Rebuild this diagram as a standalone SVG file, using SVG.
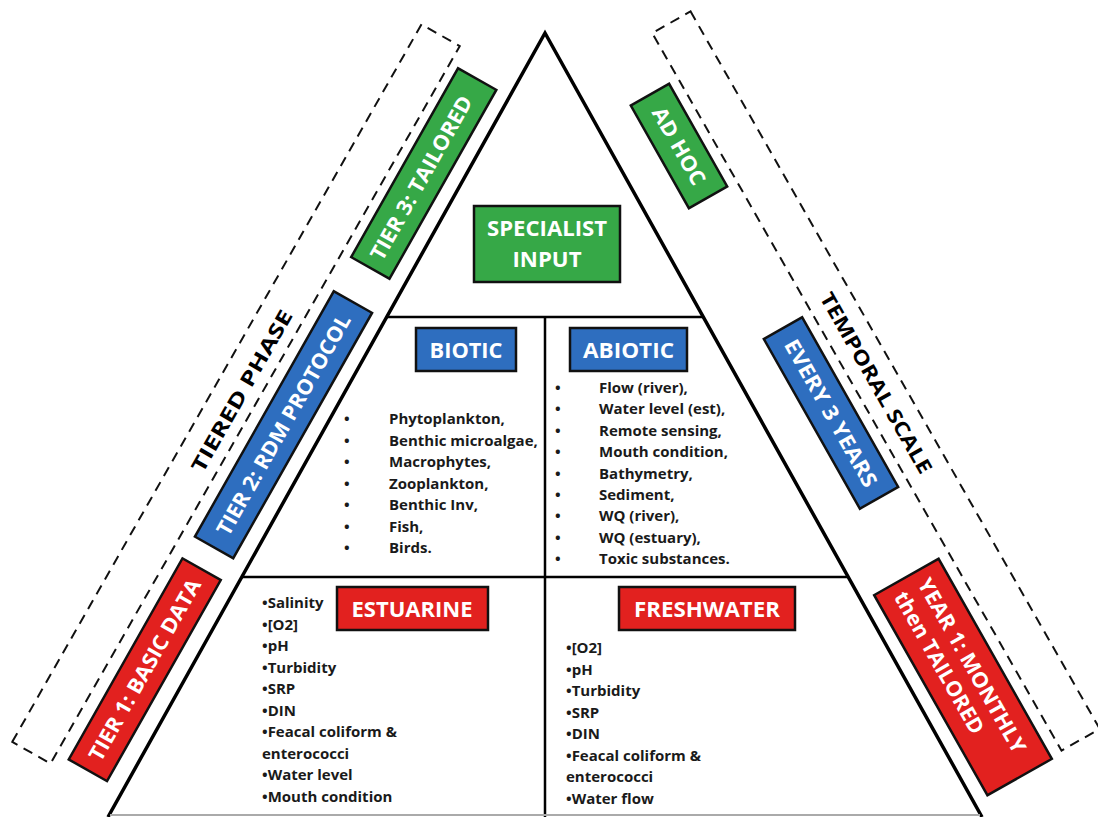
<svg xmlns="http://www.w3.org/2000/svg" width="1098" height="817" viewBox="0 0 1098 817">
<style>
.lbl{font-family:"Open Sans","Liberation Sans",sans-serif;font-weight:bold;font-size:21px;fill:#fff}
.side{font-family:"Open Sans","Liberation Sans",sans-serif;font-weight:bold;font-size:20px;fill:#000}
.lst{font-family:"Open Sans","Liberation Sans",sans-serif;font-weight:bold;font-size:15px;fill:#1a1a1a}
.g{fill:#36a847;stroke:#111;stroke-width:2.5}
.b{fill:#2e6ebf;stroke:#111;stroke-width:2.5}
.r{fill:#e2211f;stroke:#111;stroke-width:2.5}
.dash{fill:none;stroke:#111;stroke-width:2;stroke-dasharray:10 7}
</style>
<rect width="1098" height="817" fill="#fff"/>
<g id="connectors" fill="none" stroke="#000">
<path d="M108,817 L545,33 L982,817" stroke-width="3.5" stroke-linejoin="miter"/>
<line x1="386" y1="317" x2="703" y2="317" stroke-width="2.5"/>
<line x1="242" y1="577" x2="847" y2="577" stroke-width="2.5"/>
<line x1="545" y1="317" x2="545" y2="817" stroke-width="2.5"/>
<line x1="110" y1="815" x2="980" y2="815" stroke="#aaa" stroke-width="2"/>
</g>
<g id="tiered-phase">
<rect class="dash" x="-413" y="-22" width="826" height="44" transform="translate(236,394) rotate(-60.3)"/>
<text class="side" text-anchor="middle" x="0" y="7" textLength="183" lengthAdjust="spacingAndGlyphs" transform="translate(242,391) rotate(-60.3)">TIERED PHASE</text>
</g>
<g id="temporal-scale">
<rect class="dash" x="-413" y="-22" width="826" height="44" transform="translate(876,381) rotate(60.3)"/>
<text class="side" text-anchor="middle" x="0" y="7" textLength="205" lengthAdjust="spacingAndGlyphs" transform="translate(876,383) rotate(60.3)">TEMPORAL  SCALE</text>
</g>
<g id="tier3">
<rect class="g" x="-108.5" y="-22" width="217" height="44" transform="translate(423.75,173.5) rotate(-60.5)"/>
<text class="lbl" text-anchor="middle" x="-5" y="7.5" textLength="185" lengthAdjust="spacingAndGlyphs" transform="translate(423.75,173.5) rotate(-60.5)">TIER 3: TAILORED</text>
</g>
<g id="tier2">
<rect class="b" x="-141" y="-22" width="282" height="44" transform="translate(283.5,424.75) rotate(-60.5)"/>
<text class="lbl" text-anchor="middle" x="0" y="7.5" textLength="250" lengthAdjust="spacingAndGlyphs" transform="translate(283.5,424.75) rotate(-60.5)">TIER 2: RDM PROTOCOL</text>
</g>
<g id="tier1">
<rect class="r" x="-115.5" y="-22" width="231" height="44" transform="translate(144.75,669.75) rotate(-60.5)"/>
<text class="lbl" text-anchor="middle" x="0" y="7.5" textLength="205" lengthAdjust="spacingAndGlyphs" transform="translate(144.75,669.75) rotate(-60.5)">TIER 1: BASIC DATA</text>
</g>
<g id="adhoc">
<rect class="g" x="-59" y="-22" width="118" height="44" transform="translate(679,146) rotate(60.5)"/>
<text class="lbl" text-anchor="middle" x="0" y="7.5" textLength="86" lengthAdjust="spacingAndGlyphs" transform="translate(679,146) rotate(60.5)">AD HOC</text>
</g>
<g id="every3">
<rect class="b" x="-97.5" y="-22" width="195" height="44" transform="translate(831,413) rotate(60.5)"/>
<text class="lbl" text-anchor="middle" x="0" y="7.5" textLength="166" lengthAdjust="spacingAndGlyphs" transform="translate(831,413) rotate(60.5)">EVERY 3 YEARS</text>
</g>
<g id="year1">
<rect class="r" x="-115" y="-37" width="230" height="74" transform="translate(963,677) rotate(60.5)"/>
<text class="lbl" x="-104" y="-6" textLength="197" lengthAdjust="spacingAndGlyphs" transform="translate(963,677) rotate(60.5)">YEAR 1: MONTHLY</text>
<text class="lbl" x="-104" y="21" textLength="160" lengthAdjust="spacingAndGlyphs" transform="translate(963,677) rotate(60.5)">then TAILORED</text>
</g>
<g id="specialist">
<rect class="g" x="474" y="206" width="146" height="76"/>
<text class="lbl" text-anchor="middle" x="547" y="236" textLength="120" lengthAdjust="spacingAndGlyphs">SPECIALIST</text>
<text class="lbl" text-anchor="middle" x="547" y="267" textLength="69" lengthAdjust="spacingAndGlyphs">INPUT</text>
</g>
<g id="biotic">
<rect class="b" x="416" y="328" width="100" height="43"/>
<text class="lbl" text-anchor="middle" x="466" y="358" textLength="73" lengthAdjust="spacingAndGlyphs">BIOTIC</text>
<g class="lst">
<text x="344" y="424">•<tspan x="389">Phytoplankton,</tspan></text>
<text x="344" y="445.5">•<tspan x="389">Benthic microalgae,</tspan></text>
<text x="344" y="467">•<tspan x="389">Macrophytes,</tspan></text>
<text x="344" y="488.5">•<tspan x="389">Zooplankton,</tspan></text>
<text x="344" y="510">•<tspan x="389">Benthic Inv,</tspan></text>
<text x="344" y="531.5">•<tspan x="389">Fish,</tspan></text>
<text x="344" y="553">•<tspan x="389">Birds.</tspan></text>
</g>
</g>
<g id="abiotic">
<rect class="b" x="570" y="328" width="117" height="43"/>
<text class="lbl" text-anchor="middle" x="628.5" y="358" textLength="91" lengthAdjust="spacingAndGlyphs">ABIOTIC</text>
<g class="lst">
<text x="555" y="393">•<tspan x="599">Flow (river),</tspan></text>
<text x="555" y="414.4">•<tspan x="599">Water level (est),</tspan></text>
<text x="555" y="435.8">•<tspan x="599">Remote sensing,</tspan></text>
<text x="555" y="457.2">•<tspan x="599">Mouth condition,</tspan></text>
<text x="555" y="478.6">•<tspan x="599">Bathymetry,</tspan></text>
<text x="555" y="500">•<tspan x="599">Sediment,</tspan></text>
<text x="555" y="521.4">•<tspan x="599">WQ (river),</tspan></text>
<text x="555" y="542.8">•<tspan x="599">WQ (estuary),</tspan></text>
<text x="555" y="564.2">•<tspan x="599">Toxic substances.</tspan></text>
</g>
</g>
<g id="estuarine">
<rect class="r" x="337" y="587" width="151" height="43"/>
<text class="lbl" text-anchor="middle" x="412" y="617" textLength="121" lengthAdjust="spacingAndGlyphs">ESTUARINE</text>
<g class="lst">
<text x="262" y="608">•Salinity</text>
<text x="262" y="629.5">•[O2]</text>
<text x="262" y="651">•pH</text>
<text x="262" y="672.5">•Turbidity</text>
<text x="262" y="694">•SRP</text>
<text x="262" y="715.5">•DIN</text>
<text x="262" y="737">•Feacal coliform &amp;</text>
<text x="262" y="758.5">enterococci</text>
<text x="262" y="780">•Water level</text>
<text x="262" y="801.5">•Mouth condition</text>
</g>
</g>
<g id="freshwater">
<rect class="r" x="619" y="587" width="176" height="43"/>
<text class="lbl" text-anchor="middle" x="707" y="617" textLength="146" lengthAdjust="spacingAndGlyphs">FRESHWATER</text>
<g class="lst">
<text x="566" y="653">•[O2]</text>
<text x="566" y="674.5">•pH</text>
<text x="566" y="696">•Turbidity</text>
<text x="566" y="717.5">•SRP</text>
<text x="566" y="739">•DIN</text>
<text x="566" y="760.5">•Feacal coliform &amp;</text>
<text x="566" y="782">enterococci</text>
<text x="566" y="803.5">•Water flow</text>
</g>
</g>
</svg>
